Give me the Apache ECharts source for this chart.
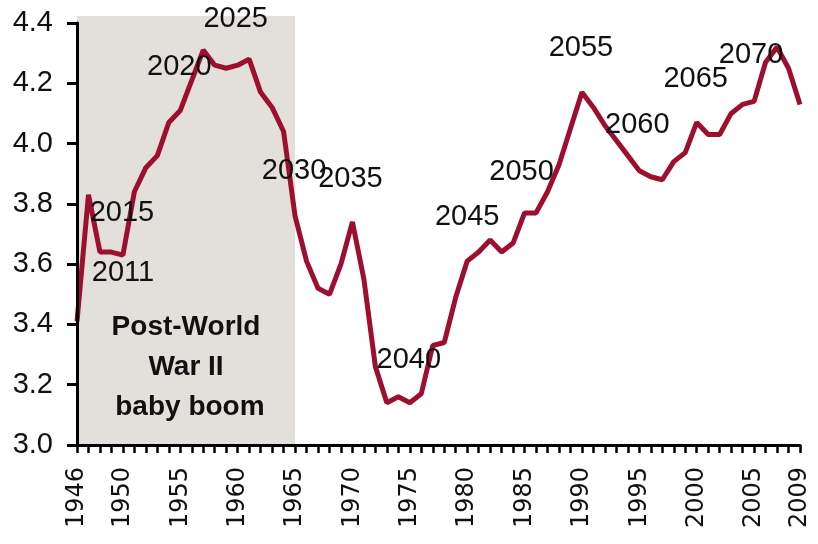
<!DOCTYPE html>
<html>
<head>
<meta charset="utf-8">
<title>US births, 1946-2009</title>
<script src="https://cdn.jsdelivr.net/npm/echarts@6/dist/echarts.min.js"></script>
<style>
  html, body { margin: 0; padding: 0; background: #ffffff; }
  #chart { width: 818px; height: 544px; }
</style>
</head>
<body>
<div id="chart"></div>
<script>
// Birth year categories
const years = [
  '1946','1947','1948','1949','1950','1951','1952','1953','1954','1955',
  '1956','1957','1958','1959','1960','1961','1962','1963','1964','1965',
  '1966','1967','1968','1969','1970','1971','1972','1973','1974','1975',
  '1976','1977','1978','1979','1980','1981','1982','1983','1984','1985',
  '1986','1987','1988','1989','1990','1991','1992','1993','1994','1995',
  '1996','1997','1998','1999','2000','2001','2002','2003','2004','2005',
  '2006','2007','2008','2009'
];

// Births per year (millions)
const births = [
  3.41, 3.83, 3.64, 3.64, 3.63, 3.84, 3.92, 3.96, 4.07, 4.11,
  4.21, 4.31, 4.26, 4.25, 4.26, 4.28, 4.17, 4.12, 4.04, 3.76,
  3.61, 3.52, 3.50, 3.60, 3.74, 3.55, 3.26, 3.14, 3.16, 3.14,
  3.17, 3.33, 3.34, 3.49, 3.61, 3.64, 3.68, 3.64, 3.67, 3.77,
  3.77, 3.84, 3.93, 4.05, 4.17, 4.12, 4.06, 4.01, 3.96, 3.91,
  3.89, 3.88, 3.94, 3.97, 4.07, 4.03, 4.03, 4.10, 4.13, 4.14,
  4.27, 4.32, 4.25, 4.13
];

// Year each cohort turns 65, written next to its birth year
const cohortYears  = ['1946','1950','1955','1960','1965','1970','1975','1980','1985','1990','1995','2000','2005'];
const turns65      = ['2011','2015','2020','2025','2030','2035','2040','2045','2050','2055','2060','2065','2070'];

// Y axis scale
const yMin = 3.0;
const yMax = 4.4;
const yStep = 0.2;

// Shaded baby boom period
const boomFrom = '1946';
const boomTo = '1965';
const boomText = 'Post-World\nWar II\n baby boom';

// Pixel offsets of the turns-65 labels from their points
const labelOffsets = [
  [46, -48], [-1, -42], [-1, -43], [-2, -46], [-1, -45], [-2, -43], [-1, -43],
  [0, -44], [-3, -41], [-1, -44], [-2, -46], [-1, -43], [-3, -46]
];

const lastYear = years[years.length - 1];

const lineData = births.map(function (v, i) {
  const k = cohortYears.indexOf(years[i]);
  if (k < 0) return v;
  return {
    value: v,
    label: {
      show: true,
      formatter: turns65[k],
      offset: labelOffsets[k]
    }
  };
});

const chart = echarts.init(document.getElementById('chart'), null, { renderer: 'canvas' });

chart.setOption({
  backgroundColor: '#ffffff',
  animation: false,
  grid: [
    { left: 77, right: 18, top: 23, bottom: 99 },
    { left: 77, right: 18, top: 16, bottom: 99 }
  ],
  xAxis: [
    {
      type: 'category',
      gridIndex: 0,
      data: years,
      boundaryGap: false,
      z: 10,
      axisLine: { show: true, lineStyle: { color: '#000000', width: 3 } },
      axisTick: { show: true, interval: 0, length: 8, lineStyle: { color: '#000000', width: 2.5 } },
      axisLabel: {
        rotate: 90,
        margin: 22,
        color: '#111111',
        fontFamily: 'DejaVu Sans',
        fontSize: 24,
        padding: [0, 0, 12, 0],
        interval: function (idx, val) {
          return Number(val) % 5 === 0 || idx === 0 || val === lastYear;
        }
      },
      splitLine: { show: false }
    },
    {
      type: 'category',
      gridIndex: 1,
      data: years,
      boundaryGap: false,
      show: false
    }
  ],
  yAxis: [
    {
      type: 'value',
      gridIndex: 0,
      min: yMin,
      max: yMax,
      interval: yStep,
      z: 10,
      axisLine: { show: true, lineStyle: { color: '#000000', width: 3 } },
      axisTick: { show: true, length: 10, lineStyle: { color: '#000000', width: 3 } },
      axisLabel: {
        margin: 24,
        color: '#111111',
        fontFamily: 'Liberation Sans, Arial, sans-serif',
        fontSize: 29,
        formatter: function (v) { return v.toFixed(1); }
      },
      splitLine: { show: false }
    },
    {
      type: 'value',
      gridIndex: 1,
      min: 0,
      max: 1,
      show: false
    }
  ],
  series: [
    {
      type: 'line',
      xAxisIndex: 1,
      yAxisIndex: 1,
      data: [],
      z: 0,
      silent: true,
      markArea: {
        silent: true,
        itemStyle: { color: '#E3DFDB' },
        label: {
          show: true,
          position: ['50%', '82%'],
          align: 'center',
          verticalAlign: 'middle',
          color: '#111111',
          fontFamily: 'Liberation Sans, Arial, sans-serif',
          fontWeight: 'bold',
          fontSize: 28,
          lineHeight: 40
        },
        data: [[
          { xAxis: boomFrom, name: boomText },
          { xAxis: boomTo }
        ]]
      }
    },
    {
      type: 'line',
      xAxisIndex: 0,
      yAxisIndex: 0,
      data: lineData,
      z: 3,
      showSymbol: true,
      showAllSymbol: true,
      symbol: 'circle',
      symbolSize: 0,
      lineStyle: { color: '#9E0F2F', width: 5 },
      itemStyle: { color: '#9E0F2F' },
      label: {
        show: false,
        position: 'inside',
        color: '#111111',
        fontFamily: 'Liberation Sans, Arial, sans-serif',
        fontSize: 29
      },
      emphasis: { disabled: true }
    }
  ]
});
</script>
</body>
</html>
